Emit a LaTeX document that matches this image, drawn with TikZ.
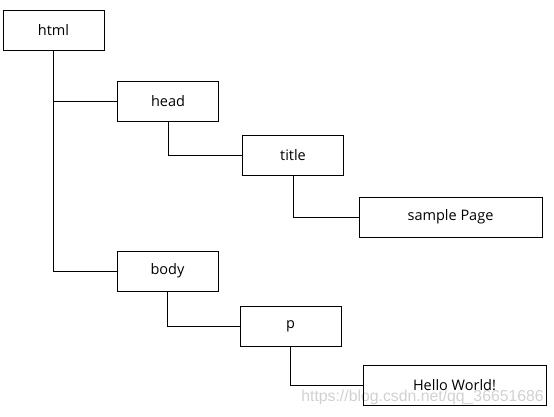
\documentclass[tikz,border=0pt]{standalone}
\usepackage{fontspec}
\setmainfont{Open Sans}
\newfontfamily\wmfont{Liberation Sans}
\begin{document}
\begin{tikzpicture}[x=1pt,y=-1pt,
  box/.style={draw=black,line width=0.9pt,inner sep=0pt,font=\fontsize{14.5}{16}\selectfont},
  conn/.style={draw=black,line width=0.9pt}]
\useasboundingbox (0,0) rectangle (554,416);
\node[text=black!18,font=\wmfont\fontsize{15.8}{17}\selectfont,anchor=east,inner sep=0pt] (wm) at (544,397) {https://blog.csdn.net/qq\_36651686};
\node[box,minimum width=101pt,minimum height=40pt] (html) at (53.5,30) {html};
\node[box,minimum width=101pt,minimum height=40pt] (head) at (168,101) {head};
\node[box,minimum width=101pt,minimum height=40pt] (title) at (293,155) {title};
\node[box,minimum width=183pt,minimum height=40pt] (sample) at (450.5,217) {sample Page};
\node[box,minimum width=101pt,minimum height=40pt] (body) at (167.5,271) {body};
\node[box,minimum width=101pt,minimum height=40pt] (p) at (290.5,326) {p};
\node[box,minimum width=183pt,minimum height=40pt] (hello) at (454.5,385) {Hello World!};
\draw[conn] (html.south) |- (head.west);
\draw[conn] (html.south) |- (body.west);
\draw[conn] (head.south) |- (title.west);
\draw[conn] (title.south) |- (sample.west);
\draw[conn] (body.south) |- (p.west);
\draw[conn] (p.south) |- (hello.west);
\end{tikzpicture}
\end{document}
